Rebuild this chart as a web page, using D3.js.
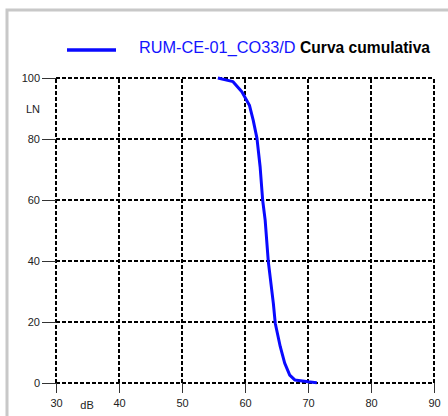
<!DOCTYPE html>
<html>
<head>
<meta charset="utf-8">
<script src="https://cdn.jsdelivr.net/npm/d3@7"></script>
<style>
  html, body { margin: 0; padding: 0; background: #fff; }
  svg { display: block; font-family: Arial, "Liberation Sans", sans-serif; }
</style>
</head>
<body>
<svg id="chart" width="448" height="416"></svg>
<script>
// Cumulative level distribution: level in dB vs. percentage of time exceeded (LN)
const levelsDb = [55.7, 58.1, 59.5, 60.7, 61.3, 61.9, 62.4, 62.8, 63.2, 63.7, 64.5, 64.8, 65.6, 66.3, 67.1, 67.9, 70.0, 71.4];
const cumulativePct = [100, 98.8, 95.5, 91.1, 86.2, 80.2, 70.9, 60, 53.4, 39.8, 26.1, 19.6, 11.9, 6.5, 2.6, 1.0, 0.4, 0.1];

const xTicks = [30, 40, 50, 60, 70, 80, 90];
const yTicks = [0, 20, 40, 60, 80, 100];

const seriesName = "RUM-CE-01_CO33/D";
const titleText = "Curva cumulativa";
const xUnit = "dB";
const yUnit = "LN";

const svg = d3.select("#chart");

// outer panel frame (top and left edges visible)
svg.append("path")
  .attr("d", "M7,416 L7,10 L448,10")
  .attr("fill", "none")
  .attr("stroke", "#c8c8c8")
  .attr("stroke-width", 3);

const x = d3.scaleLinear().domain([30, 90]).range([56, 434]);
const y = d3.scaleLinear().domain([0, 100]).range([383, 78]);

// dashed grid
const grid = svg.append("g");
grid.selectAll("line.v").data(xTicks).join("line")
  .attr("x1", d => x(d)).attr("x2", d => x(d))
  .attr("y1", y(0)).attr("y2", y(100))
  .attr("stroke", "#000").attr("stroke-width", 2)
  .attr("stroke-dasharray", "4,2");
grid.selectAll("line.h").data(yTicks).join("line")
  .attr("x1", x(30)).attr("x2", x(90))
  .attr("y1", d => y(d)).attr("y2", d => y(d))
  .attr("stroke", "#000").attr("stroke-width", 2)
  .attr("stroke-dasharray", "4,2");

// axes: solid tick stubs outside the plot, labels beyond them
const xAxis = d3.axisBottom(x).tickValues(xTicks).tickSize(10).tickPadding(6).tickSizeOuter(0);
const yAxis = d3.axisLeft(y).tickValues(yTicks).tickSize(14).tickPadding(2).tickSizeOuter(0);

const gx = svg.append("g").attr("transform", `translate(0,${y(0)})`).call(xAxis);
const gy = svg.append("g").attr("transform", `translate(${x(30)},0)`).call(yAxis);
[gx, gy].forEach(g => {
  g.select(".domain").remove();
  g.selectAll(".tick line").attr("stroke", "#333").attr("stroke-width", 1);
  g.selectAll(".tick text").attr("fill", "#222").style("font-size", "11px")
    .style("font-family", "Arial, 'Liberation Sans', sans-serif");
});

// unit labels
svg.append("text").attr("x", 87).attr("y", 409).attr("text-anchor", "middle")
  .style("font-size", "11px").attr("fill", "#222").text(xUnit);
svg.append("text").attr("x", 40).attr("y", 113).attr("text-anchor", "end")
  .style("font-size", "11px").attr("fill", "#222").text(yUnit);

// cumulative curve
const line = d3.line()
  .x((d, i) => x(levelsDb[i]))
  .y(d => y(d));
svg.append("path")
  .datum(cumulativePct)
  .attr("d", line)
  .attr("fill", "none")
  .attr("stroke", "#0a0aff")
  .attr("stroke-width", 3)
  .attr("stroke-linejoin", "round");

// legend
svg.append("line")
  .attr("x1", 67).attr("x2", 116).attr("y1", 50).attr("y2", 50)
  .attr("stroke", "#0a0aff").attr("stroke-width", 3.5);
const leg = svg.append("text").attr("x", 139).attr("y", 53);
leg.append("tspan").attr("fill", "#1414ff").style("font-size", "16.3px").text(seriesName + " ");
leg.append("tspan").attr("fill", "#000").attr("font-weight", "bold").style("font-size", "15.6px").text(titleText);
</script>
</body>
</html>
